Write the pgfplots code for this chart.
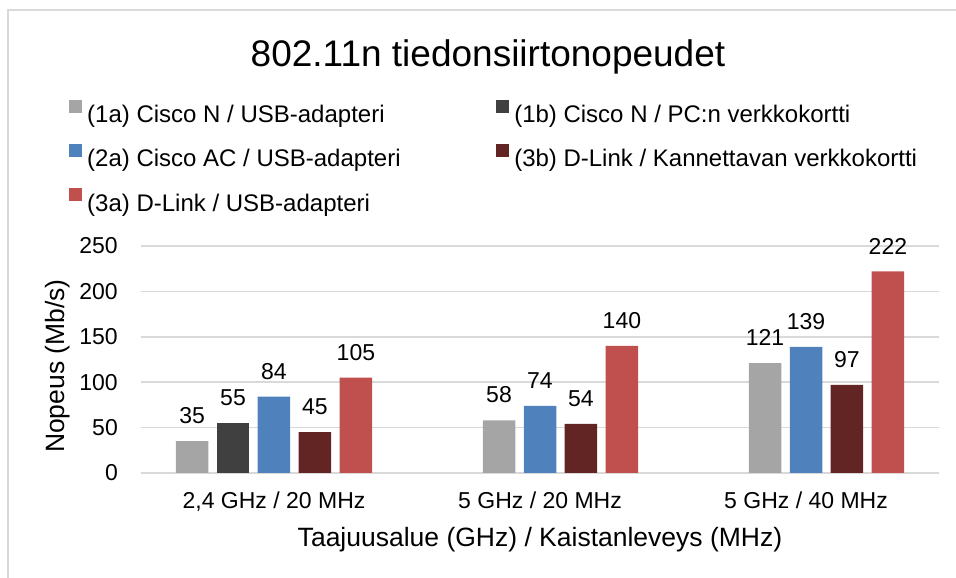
\documentclass[border=0pt]{standalone}
\usepackage{fontspec}
\setmainfont{Liberation Sans}
\usepackage{pgfplots}
\pgfplotsset{compat=1.18}
\definecolor{cA}{HTML}{A5A5A5}
\definecolor{cB}{HTML}{404040}
\definecolor{cC}{HTML}{4F81BD}
\definecolor{cD}{HTML}{632523}
\definecolor{cE}{HTML}{C0504D}
\definecolor{gridgray}{HTML}{D9D9D9}
\begin{document}
\begin{tikzpicture}
\path[use as bounding box] (-141pt,-105pt) rectangle (815pt,473pt);
\draw[gridgray, line width=1.5pt] (-133pt,-110pt) -- (-133pt,463pt) -- (820pt,463pt);
\node[anchor=base, font=\fontsize{37}{44}\selectfont] at (347pt,406pt) {802.11n tiedonsiirtonopeudet};
\begin{axis}[
  scale only axis, width=798pt, height=227pt,
  xmin=-0.5, xmax=2.5, ymin=0, ymax=250,
  clip=false,
  xtick={0,1,2},
  xticklabels={{2,4 GHz / 20 MHz},{5 GHz / 20 MHz},{5 GHz / 40 MHz}},
  ytick={0,50,100,150,200,250},
  major tick length=0pt,
  axis line style={draw=none},
  ymajorgrids,
  grid style={draw=gridgray, line width=1.5pt},
  /pgf/number format/assume math mode=true,
  tick label style={font=\fontsize{23}{27}\selectfont},
  yticklabel style={inner sep=0pt, anchor=east, xshift=-23pt},
  xticklabel style={inner sep=0pt, anchor=north, yshift=-19pt},
  xlabel={Taajuusalue (GHz) / Kaistanleveys (MHz)},
  ylabel={Nopeus (Mb/s)},
  label style={font=\fontsize{26.5}{31}\selectfont},
  xlabel style={at={(axis description cs:0.5,-0.295)}, anchor=center, inner sep=0pt},
  ylabel style={at={(axis description cs:-0.104,0.471)}, anchor=center, inner sep=0pt},
  nodes near coords,
  every node near coord/.append style={font=\fontsize{23}{27}\selectfont, text=black, anchor=south, inner sep=0pt, yshift=17pt},
  legend columns=2,
  legend cell align=left,
  legend image code/.code={\fill[#1] (0pt,3.5pt) rectangle (13pt,16.5pt);},
  legend style={at={(axis description cs:-0.0902,1.645)}, anchor=north west, draw=none, fill=none, inner sep=0pt,
    font=\fontsize{24}{28}\selectfont,
    nodes={inner sep=0pt, text height=17.5pt, text depth=5pt},
    row sep=16.5pt,
    /tikz/every odd column/.append style={column sep=5pt},
    /tikz/column 2/.append style={column sep=95.6pt}},
]
\addplot[ybar, bar shift=0pt, bar width=32.5pt, fill=cA, draw=none] coordinates {(-0.308,35) (0.846,58) (1.846,121)};
\addlegendentry{(1a) Cisco N / USB-adapteri}
\addplot[ybar, bar shift=0pt, bar width=32.5pt, fill=cB, draw=none] coordinates {(-0.154,55)};
\addlegendentry{(1b) Cisco N / PC:n verkkokortti}
\addplot[ybar, bar shift=0pt, bar width=32.5pt, fill=cC, draw=none] coordinates {(0,84) (1,74) (2,139)};
\addlegendentry{(2a) Cisco AC / USB-adapteri}
\addplot[ybar, bar shift=0pt, bar width=32.5pt, fill=cD, draw=none] coordinates {(0.154,45) (1.154,54) (2.154,97)};
\addlegendentry{(3b) D-Link / Kannettavan verkkokortti}
\addplot[ybar, bar shift=0pt, bar width=32.5pt, fill=cE, draw=none] coordinates {(0.308,105) (1.308,140) (2.308,222)};
\addlegendentry{(3a) D-Link / USB-adapteri}
\end{axis}
\end{tikzpicture}
\end{document}
